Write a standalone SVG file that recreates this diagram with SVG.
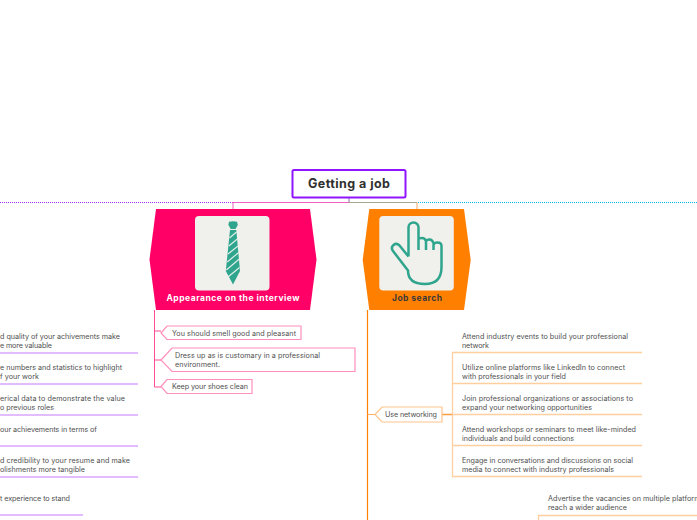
<svg xmlns="http://www.w3.org/2000/svg" width="697" height="520" viewBox="0 0 697 520">
<style>
text{font-family:"Inter","Open Sans",sans-serif;font-size:7.200px;fill:#505050}
.main{fill:#ff0066}
.pk{fill:#fff;stroke:#ff8fbc;stroke-width:1.2}
.or{fill:#fff;stroke:#ffc48c;stroke-width:1.2}
.lp{stroke:#d9a6ff;stroke-width:1.3;fill:none}
.lo{stroke:#ffcf9f;stroke-width:1.3;fill:none}
.title{font-size:12.500px;font-weight:700;fill:#303030}
.bl{font-size:8.500px;font-weight:700;fill:#3a3a3a}
</style>
<rect width="697" height="520" fill="#fff"/>
<g id="connectors" fill="none">
<path d="M0 202.500H233" stroke="#a033ff" stroke-dasharray="1 1"/>
<path d="M418 202.500H697" stroke="#00b8f0" stroke-dasharray="1 1"/>
<path d="M233 209V202.500H349" stroke="#f060c0"/>
<path d="M349 202.500H417" stroke="#a8a890"/>
<path d="M417 202.500V209" stroke="#ffa95c"/>
<path d="M349 198V202" stroke="#8a6ab0"/>
<path d="M154.500 310V387H161M154.500 331H161M154.500 360H161" stroke="#ff4d94"/>
<path d="M367.500 310V520" stroke="#ff8000" stroke-width="1.2"/>
<path d="M367.500 414.500H375" stroke="#ffb066"/>
<path d="M442 414.500H452.500" stroke="#ff9a3d" stroke-width="1.500"/>
<path class="lo" d="M452.500 352.500V476.500"/>
<path class="lo" d="M452 352.500H642M452 383.500H642M452 414.500H642M452 445.500H642M452 476.500H642"/>
<path class="lo" d="M538.500 520V515.500H697"/>
<path class="lp" d="M0 353H138M0 384H138M0 415H138M0 446H138M0 477H138M0 515H83"/>
</g>
<g id="root"><rect x="292.500" y="170" width="113" height="27.500" rx="1.500" fill="#fff" stroke="#8f14ff" stroke-width="2"/><text class="title" x="349" y="188" text-anchor="middle" textLength="82">Getting a job</text></g>
<g id="appearance">
<path class="main" d="M156 209H310L316.500 259.500L310 310H156L149.500 259.500Z"/>
<rect x="195" y="216" width="74.500" height="74.500" rx="4" fill="#f0f0ec"/>
<path d="M229 221.800q4-1.300 8 0l.8 3.200-2.300 4h-4.800l-2.300-4z" fill="#2fa58e"/>
<path d="M230 230h6.300l3.700 41-7 13.500-7.200-13.500z" fill="#2fa58e"/>
<path d="M229.500 238l7-6M228.800 246l8.500-7M228 254l10-8M227.200 262l11.500-9.500M226.300 270l13-11M228 277l11.500-9.500" stroke="#e4efe9" stroke-width="1.100" fill="none"/>
<text class="bl" x="233" y="301" text-anchor="middle" style="fill:#fff" textLength="133">Appearance on the interview</text>
</g>
<g id="jobsearch">
<path d="M369.300 209H464L470.700 260L464 310H369.300L362.700 260Z" fill="#ff8000"/>
<rect x="379.300" y="216" width="74.500" height="74.500" rx="4" fill="#f0f0ec"/>
<path d="M408.500 256.500L399.500 245.500q-3-3-6-.5q-3 2.500-.5 6L408 270.500q0 13.500 17 13.500q16.500 0 16.500-17V246q0-3.500-4-3.500q-3.500 0-4 2.500V250M433.500 243.500q-1-4-4-4q-3 0-3.500 2V250M426 241q-1-3-4-3q-3 0-3.500 1M418.500 250V227.500a5 5 0 0 0-10 0V256.500" fill="none" stroke="#2fa58e" stroke-width="2.500" stroke-linejoin="round"/>
<text class="bl" x="417" y="301" text-anchor="middle" textLength="50">Job search</text>
</g>
<g id="n1"><path class="pk" d="M161 333l6-7H301V339.500H167z"/><text x="172" y="336" textLength="124">You should smell good and pleasant</text></g>
<g id="n2"><path class="pk" d="M161 360l11-12H355V371.500H172z"/><text x="175" y="358" textLength="145">Dress up as is customary in a professional</text><text x="175" y="367" textLength="45">environment.</text></g>
<g id="n3"><path class="pk" d="M161 386.500l6-7H252V393.500H167z"/><text x="172" y="389" textLength="76">Keep your shoes clean</text></g>
<g id="n4"><path class="or" d="M375 414.500l7-7.500H442V422H382z"/><text x="385" y="417" textLength="52">Use networking</text></g>
<g id="leaves-right">
<text x="462" y="339" textLength="166">Attend industry events to build your professional</text><text x="462" y="348" textLength="27">network</text>
<text x="462" y="370" textLength="163">Utilize online platforms like LinkedIn to connect</text><text x="462" y="379" textLength="104">with professionals in your field</text>
<text x="462" y="401" textLength="171">Join professional organizations or associations to</text><text x="462" y="410" textLength="130">expand your networking opportunities</text>
<text x="462" y="432" textLength="174">Attend workshops or seminars to meet like-minded</text><text x="462" y="441" textLength="112">individuals and build connections</text>
<text x="462" y="463" textLength="171">Engage in conversations and discussions on social</text><text x="462" y="472" textLength="152">media to connect with industry professionals</text>
<text x="548" y="501" textLength="165">Advertise the vacancies on multiple platforms to</text><text x="548" y="510" textLength="79">reach a wider audience</text>
</g>
<g id="leaves-left">
<text x="0" y="339" textLength="120">d quality of your achivements make</text><text x="0" y="348" textLength="52">e more valuable</text>
<text x="0" y="370" textLength="122">e numbers and statistics to highlight</text><text x="0" y="379" textLength="39">f your work</text>
<text x="0" y="401" textLength="125">erical data to demonstrate the value</text><text x="0" y="410" textLength="54">o previous roles</text>
<text x="0" y="432" textLength="97">our achievements in terms of</text>
<text x="0" y="463" textLength="130">d credibility to your resume and make</text><text x="0" y="472" textLength="85">olishments more tangible</text>
<text x="0" y="501" textLength="70">t experience to stand</text>
</g>
</svg>
